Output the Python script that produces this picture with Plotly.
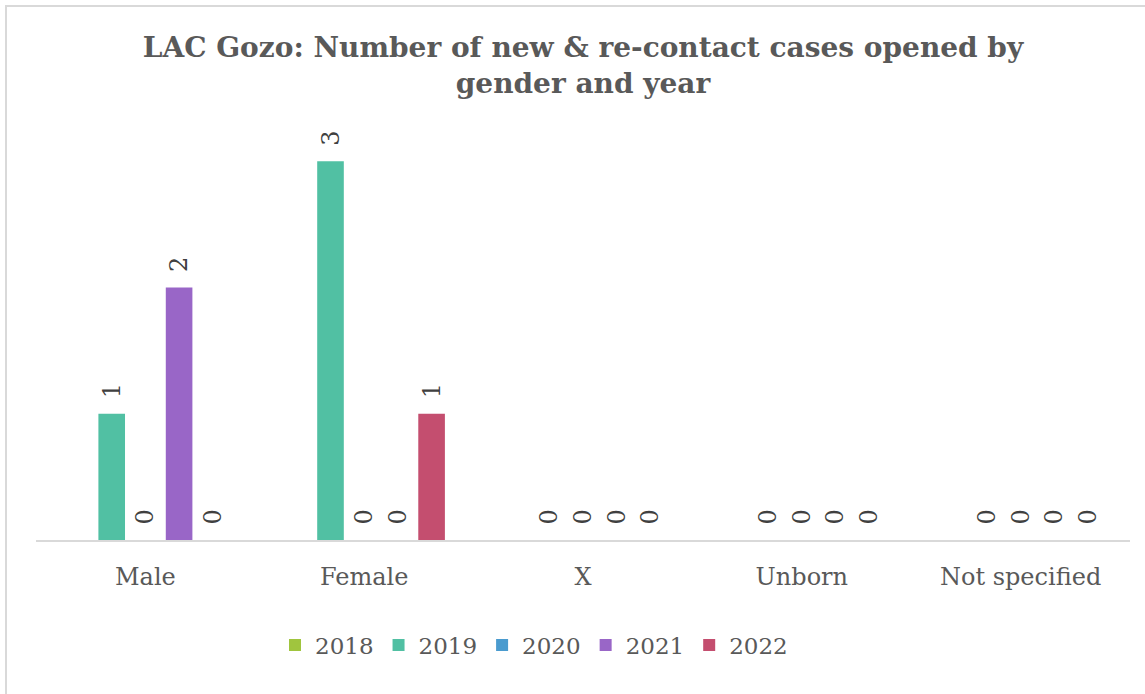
import plotly.graph_objects as go

# Categories and yearly counts
categories = ["Male", "Female", "X", "Unborn", "Not specified"]
years = ["2018", "2019", "2020", "2021", "2022"]
values_2018 = [None, None, None, None, None]
values_2019 = [1, 3, 0, 0, 0]
values_2020 = [0, 0, 0, 0, 0]
values_2021 = [2, 0, 0, 0, 0]
values_2022 = [0, 1, 0, 0, 0]

series = [values_2018, values_2019, values_2020, values_2021, values_2022]
colors = ["#A0C53E", "#51C0A3", "#4A9BCF", "#9966C7", "#C44E6F"]

FONT = "DejaVu Serif"
W, H = 1145, 694
L, R, T, B = 36, 15, 98, 154
plot_w = W - L - R
plot_h = H - T - B

fig = go.Figure()
for year, vals, col in zip(years, series, colors):
    fig.add_trace(go.Bar(
        name=year,
        x=categories,
        y=vals,
        marker=dict(color=col, line=dict(width=0)),
        texttemplate="\u00a0\u2009%{y}",
        textposition="outside",
        textangle=-90,
        constraintext="none",
        cliponaxis=False,
        textfont=dict(family=FONT, size=24, color="#404040"),
        hoverinfo="x+y+name",
    ))

# Light frame around the chart area
fig.add_shape(
    type="rect", xref="paper", yref="paper",
    x0=(6 - L) / plot_w, x1=1.1,
    y0=-0.6, y1=(H - B - 6) / plot_h,
    line=dict(color="#D9D9D9", width=2),
    fillcolor="rgba(0,0,0,0)", layer="below",
)

fig.update_layout(
    width=W, height=H,
    margin=dict(l=L, r=R, t=T, b=B),
    paper_bgcolor="white",
    plot_bgcolor="white",
    barmode="group",
    bargap=0.23,
    bargroupgap=0.21,
    title=dict(
        text="LAC Gozo: Number of new & re-contact cases opened by<br>gender and year",
        x=0.5, xref="paper", xanchor="center",
        y=1 - 57 / H, yref="container", yanchor="top",
        font=dict(family=FONT, size=28, color="#595959", weight="bold"),
    ),
    xaxis=dict(
        showline=True, linecolor="#D9D9D9", linewidth=2,
        ticks="", showgrid=False, zeroline=False,
        ticklabelstandoff=14,
        tickfont=dict(family=FONT, size=24, color="#595959"),
    ),
    yaxis=dict(visible=False, range=[0, 3.5], showgrid=False, zeroline=False),
    legend=dict(
        orientation="h",
        x=(534 - L) / plot_w, xanchor="center",
        y=(H - B - 645) / plot_h, yanchor="middle",
        font=dict(family=FONT, size=23, color="#595959"),
        itemwidth=30,
    ),
    showlegend=True,
)

fig.write_html("out.html")
